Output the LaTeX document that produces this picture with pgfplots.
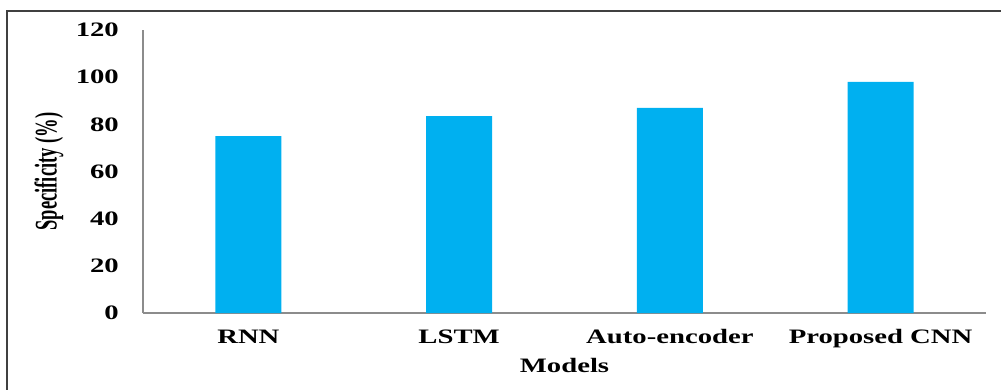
\documentclass[border=0pt]{standalone}
\usepackage{fontspec}
\setmainfont{Liberation Serif}[FakeStretch=1.4]
\newfontfamily\plainserif{Liberation Serif}
\usepackage{graphicx}
\usepackage{pgfplots}
\pgfplotsset{compat=1.18}
\definecolor{barblue}{RGB}{0,176,240}
\definecolor{spinegray}{RGB}{140,140,140}
\definecolor{framegray}{RGB}{64,64,64}

\begin{document}
\begin{tikzpicture}
\useasboundingbox (0pt,0pt) rectangle (1001pt,-390pt);
% frame around the figure
\draw[overlay, framegray, line width=1.6pt] (7pt,-11pt) rectangle (1020pt,-420pt);
\begin{axis}[
  at={(143pt,-313pt)}, anchor=south west,
  scale only axis,
  width=843pt, height=283pt,
  ymin=0, ymax=120,
  xmin=-0.5, xmax=3.5,
  enlargelimits=false,
  axis lines=left,
  axis line style={-, draw=spinegray, line width=1.5pt},
  major tick length=0pt,
  xtick=data,
  xticklabels={RNN, LSTM, Auto-encoder, Proposed CNN},
  ytick={0,20,40,60,80,100,120},
  yticklabels={0,20,40,60,80,100,120},
  /pgf/number format/assume math mode=true,
  tick label style={font=\fontsize{20.5}{24}\selectfont\bfseries, text=black},
  xticklabel style={anchor=base, yshift=-30pt, inner sep=0pt},
  yticklabel style={anchor=east, xshift=-24pt, inner sep=0pt},
  xlabel={Models},
  xlabel style={font=\fontsize{20.5}{24}\selectfont\bfseries, anchor=base,
    at={(axis description cs:0.5,-0.2085)}, inner sep=0pt},
  ylabel={\scalebox{1}[1.7]{\plainserif\fontsize{18.5}{22}\selectfont\bfseries Specificity (\%)}},
  ylabel style={anchor=center, at={(axis description cs:-0.1115,0.5)}, inner sep=0pt},
  ybar, bar width=66pt,
]
\addplot[fill=barblue, draw=none] coordinates {(0,75) (1,83.5) (2,87) (3,98)};
\end{axis}
\end{tikzpicture}
\end{document}
